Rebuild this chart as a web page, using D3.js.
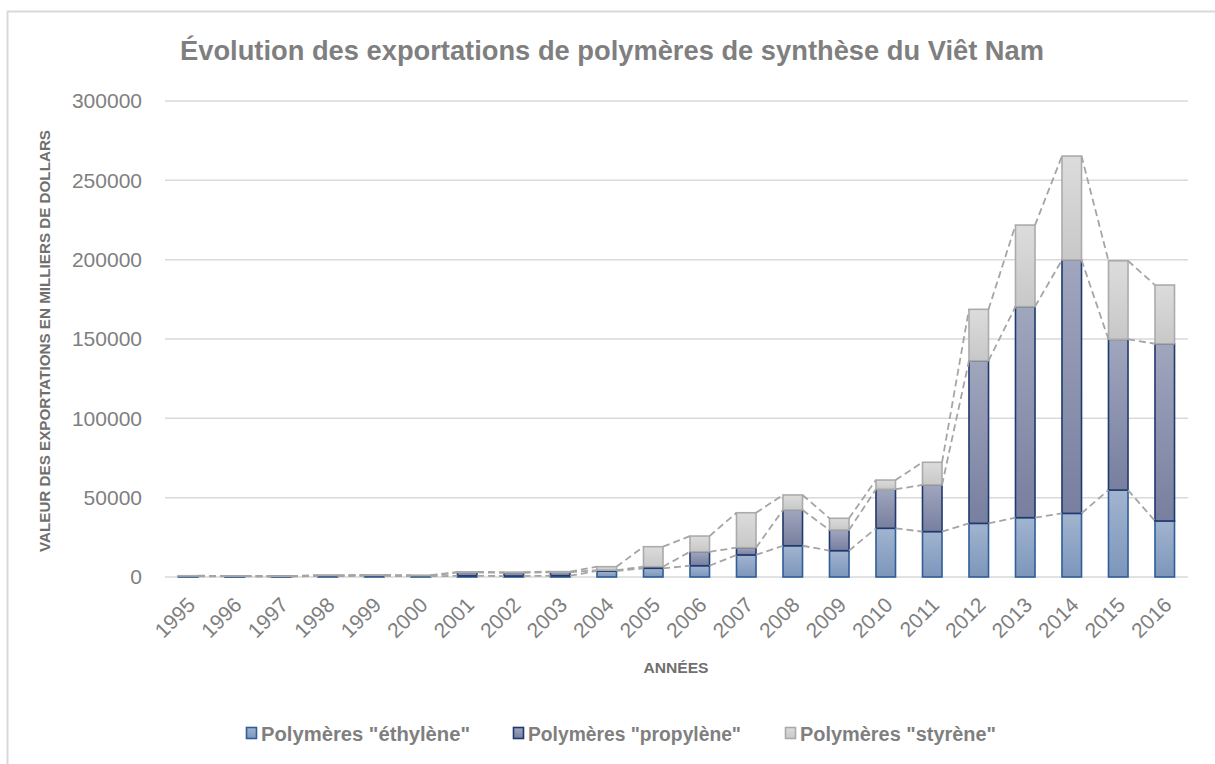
<!DOCTYPE html>
<html>
<head>
<meta charset="utf-8">
<script src="https://cdn.jsdelivr.net/npm/d3@7/dist/d3.min.js"></script>
<style>
  body { margin: 0; background: #fff; }
  svg { display: block; }
  text { font-family: "Liberation Sans Narrow", "Liberation Sans", Arial, sans-serif; }
</style>
</head>
<body>
<div id="chart"></div>
<script>
// data (milliers de dollars)
const years = ["1995","1996","1997","1998","1999","2000","2001","2002","2003","2004","2005",
  "2006","2007","2008","2009","2010","2011","2012","2013","2014","2015","2016"];
const ethylene = [400, 350, 300, 600, 700, 500, 700, 600, 800, 3800, 5500,
  7100, 13900, 19700, 16600, 30700, 28600, 33800, 37400, 40100, 54800, 35300];
const propylene = [200, 200, 150, 300, 300, 300, 2200, 2000, 2200, 500, 1000,
  8800, 4600, 22500, 13000, 24600, 29400, 102500, 133000, 159700, 95000, 111700];
const styrene = [200, 150, 150, 300, 300, 300, 300, 500, 400, 2200, 12600,
  9900, 22000, 9500, 7400, 5800, 14300, 32400, 51400, 65500, 49500, 37000];
const seriesNames = ['Polymères "éthylène"', 'Polymères "propylène"', 'Polymères "styrène"'];
const yTicks = [0, 50000, 100000, 150000, 200000, 250000, 300000];

const W = 1215, H = 764;
const margin = {left: 165, right: 27, top: 101, bottom: 187};

const svg = d3.select("#chart").append("svg").attr("width", W).attr("height", H);

// gradients and look of each series
const looks = [
  {id: "gEth", top: "#a2b4cf", bot: "#7c96bb", stroke: "#2f5e98"},
  {id: "gPro", top: "#a0a6bd", bot: "#787f9f", stroke: "#1f3a6e"},
  {id: "gSty", top: "#dcdcdc", bot: "#c8c8c8", stroke: "#ababab"}
];
const defs = svg.append("defs");
looks.forEach(l => {
  const g = defs.append("linearGradient").attr("id", l.id)
    .attr("x1", 0).attr("y1", 0).attr("x2", 0).attr("y2", 1);
  g.append("stop").attr("offset", "0%").attr("stop-color", l.top);
  g.append("stop").attr("offset", "100%").attr("stop-color", l.bot);
});

// outer frame
svg.append("rect").attr("x", 7.5).attr("y", 11.5).attr("width", W + 20).attr("height", H + 20)
  .attr("fill", "none").attr("stroke", "#d9d9d9").attr("stroke-width", 2);

const x = d3.scaleBand().domain(years).range([margin.left, W - margin.right]).paddingInner(0.58).paddingOuter(0.29);
const y = d3.scaleLinear().domain([0, 300000]).range([H - margin.bottom, margin.top]);

// gridlines
svg.append("g").selectAll("line").data(yTicks).enter().append("line")
  .attr("x1", margin.left).attr("x2", W - margin.right)
  .attr("y1", d => y(d)).attr("y2", d => y(d))
  .attr("stroke", "#d9d9d9").attr("stroke-width", 1.5);

// y axis labels
const yAxis = svg.append("g").attr("transform", `translate(${margin.left - 23},0)`)
  .call(d3.axisLeft(y).tickValues(yTicks).tickSize(0).tickPadding(0).tickFormat(d3.format("d")));
yAxis.select(".domain").remove();
yAxis.selectAll("text").attr("fill", "#7f7f7f").attr("font-size", 21)
  .style("font-family", "'Liberation Sans', Arial, sans-serif");

// stack
const table = years.map((yr, i) => ({year: yr, e: ethylene[i], p: propylene[i], s: styrene[i]}));
const stack = d3.stack().keys(["e", "p", "s"])(table);

const layers = svg.append("g").selectAll("g").data(stack).enter().append("g")
  .attr("fill", (d, i) => `url(#${looks[i].id})`)
  .attr("stroke", (d, i) => looks[i].stroke)
  .attr("stroke-width", 1.6);

layers.selectAll("rect").data(d => d).enter().append("rect")
  .attr("x", d => x(d.data.year))
  .attr("width", x.bandwidth())
  .attr("y", d => y(d[1]))
  .attr("height", d => Math.max(0, y(d[0]) - y(d[1])));

// series lines between bars
const sl = svg.append("g").attr("fill", "none").attr("stroke", "#a5a5a5")
  .attr("stroke-width", 1.8).attr("stroke-dasharray", "7,4");
stack.forEach(layer => {
  for (let i = 0; i < layer.length - 1; i++) {
    sl.append("line")
      .attr("x1", x(years[i]) + x.bandwidth()).attr("y1", y(layer[i][1]))
      .attr("x2", x(years[i + 1])).attr("y2", y(layer[i + 1][1]));
  }
});

// x axis labels
const xAxis = svg.append("g").attr("transform", `translate(0,${H - margin.bottom})`)
  .call(d3.axisBottom(x).tickSize(0).tickPadding(0));
xAxis.select(".domain").remove();
xAxis.selectAll("text")
  .attr("fill", "#7f7f7f").attr("font-size", 21)
  .style("font-family", "'Liberation Sans', Arial, sans-serif")
  .attr("text-anchor", "end")
  .attr("dy", "0.35em")
  .attr("transform", "translate(3,24) rotate(-45)");

// title
svg.append("text").attr("x", 612).attr("y", 60).attr("text-anchor", "middle")
  .attr("font-size", 27).attr("font-weight", "bold").attr("fill", "#7f7f7f")
  .attr("textLength", 864).attr("lengthAdjust", "spacingAndGlyphs")
  .text("Évolution des exportations de polymères de synthèse du Viêt Nam");

// axis titles
svg.append("text").attr("transform", "translate(50,341) rotate(-90)").attr("text-anchor", "middle")
  .attr("font-size", 14).attr("font-weight", "bold").attr("fill", "#6f6f6f")
  .attr("textLength", 422).attr("lengthAdjust", "spacingAndGlyphs")
  .text("VALEUR DES EXPORTATIONS EN MILLIERS DE DOLLARS");

svg.append("text").attr("x", 676).attr("y", 673).attr("text-anchor", "middle")
  .attr("font-size", 14).attr("font-weight", "bold").attr("fill", "#6f6f6f")
  .attr("textLength", 65).attr("lengthAdjust", "spacingAndGlyphs")
  .text("ANNÉES");

// legend
const legendX = [246, 513, 785];
const legendW = [209, 213, 196];
const lg = svg.append("g").selectAll("g").data(seriesNames).enter().append("g")
  .attr("transform", (d, i) => `translate(${legendX[i]},733)`);
lg.append("rect").attr("x", 0.5).attr("y", -5.5).attr("width", 10).attr("height", 11)
  .attr("fill", (d, i) => `url(#${looks[i].id})`)
  .attr("stroke", (d, i) => looks[i].stroke).attr("stroke-width", 1.6);
lg.append("text").attr("x", 15).attr("y", 7.5)
  .attr("font-size", 20).attr("font-weight", "bold").attr("fill", "#7f7f7f")
  .attr("textLength", (d, i) => legendW[i]).attr("lengthAdjust", "spacingAndGlyphs")
  .text(d => d);
</script>
</body>
</html>
